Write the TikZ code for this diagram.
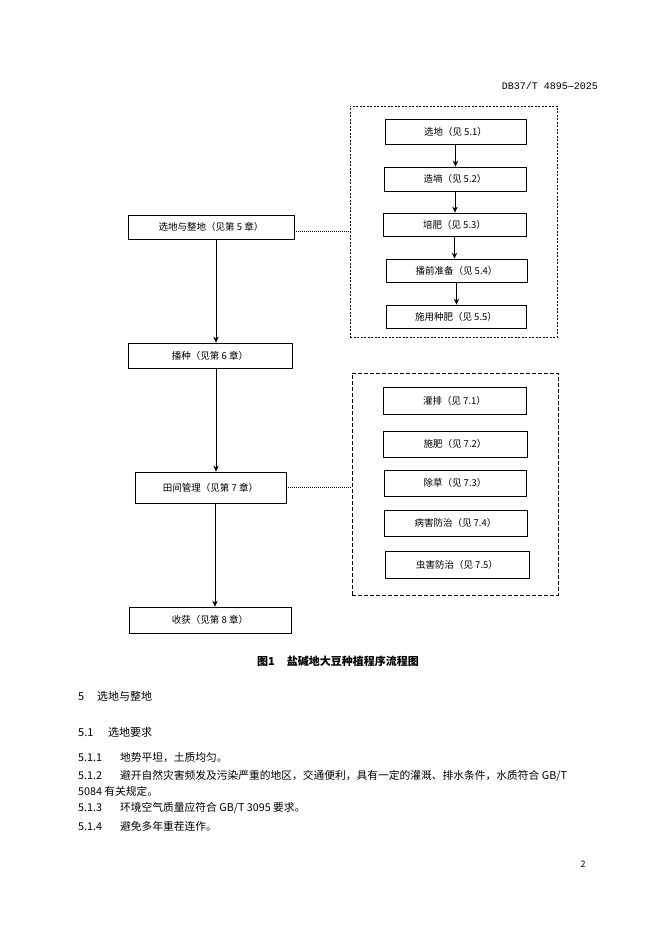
\documentclass[tikz,border=0pt]{standalone}
\usepackage{fontspec}
\newfontfamily\cjk{Noto Sans CJK SC}
\newfontfamily\mono{Liberation Mono}
\usetikzlibrary{shapes.geometric, arrows, arrows.meta, positioning}
\tikzstyle{mainbox} = [rectangle, draw=black, line width=0.8pt, minimum height=25pt, text centered, font=\cjk\fontsize{9.5}{11}\selectfont]
\tikzstyle{subbox} = [rectangle, draw=black, line width=0.8pt, minimum width=142pt, minimum height=25pt, text centered, font=\cjk\fontsize{9.5}{11}\selectfont]
\tikzstyle{groupbox} = [rectangle, draw=black, line width=0.8pt]
\tikzstyle{arrow} = [line width=0.8pt,->,>={Stealth[length=6pt,width=5.5pt]}]
\tikzstyle{dotline} = [line width=0.8pt, dash pattern=on 1pt off 1pt]
\tikzstyle{bodytext} = [anchor=west, inner sep=0pt, font=\cjk\fontsize{10.75}{12}\selectfont]
\tikzstyle{headtext} = [anchor=west, inner sep=0pt, font=\cjk\fontsize{11}{13}\selectfont]
\newcommand{\itemno}[1]{\makebox[42pt][l]{#1}}

\begin{document}
\begin{tikzpicture}[x=1pt, y=-1pt]
    \fill[white] (0,0) rectangle (662,936);
    \useasboundingbox (0,0) rectangle (662,936);

    \node (header) [anchor=east, inner sep=0pt, font=\mono\fontsize{10}{12}\selectfont] at (598,86) {DB37/T 4895—2025};

    % main column
    \node (zhengdi) [mainbox, minimum width=166pt, minimum height=24pt] at (211,227) {选地与整地（见第 5 章）};
    \node (bozhong) [mainbox, minimum width=164pt] at (210,355.5) {播种（见第 6 章）};
    \node (guanli) [mainbox, minimum width=151pt, minimum height=31pt] at (210.5,487.5) {田间管理（见第 7 章）};
    \node (shouhuo) [mainbox, minimum width=162pt, minimum height=26pt] at (210,620) {收获（见第 8 章）};

    \draw[arrow] ([xshift=5pt]zhengdi.south) -- ([xshift=5pt]zhengdi.south |- bozhong.north);
    \draw[arrow] ([xshift=6pt]bozhong.south) -- ([xshift=6pt]bozhong.south |- guanli.north);
    \draw[arrow] ([xshift=4.5pt]guanli.south) -- ([xshift=4.5pt]guanli.south |- shouhuo.north);

    % site selection group
    \node (grpdi) [groupbox, dash pattern=on 2pt off 1.5pt, minimum width=207pt, minimum height=231pt] at (453.5,221.5) {};
    \node (xuandi) [subbox, minimum width=141pt] at (455.5,131.5) {选地（见 5.1）};
    \node (xuanshang) [subbox, minimum height=24pt] at (455,179) {造墒（见 5.2）};
    \node (peifei) [subbox, minimum width=143pt, minimum height=23pt] at (454.5,224.5) {培肥（见 5.3）};
    \node (zhunbei) [subbox, minimum width=141pt, minimum height=23pt] at (456.5,270.5) {播前准备（见 5.4）};
    \node (zhongfei) [subbox, minimum width=140pt, minimum height=23pt] at (456,316.5) {施用种肥（见 5.5）};

    \draw[arrow] (xuandi.south) -- (xuandi.south |- xuanshang.north);
    \draw[arrow] (xuanshang.south) -- (xuanshang.south |- peifei.north);
    \draw[arrow] (peifei.south) -- (peifei.south |- zhunbei.north);
    \draw[arrow] (zhunbei.south) -- (zhunbei.south |- zhongfei.north);

    \draw[dotline] ([yshift=-4pt]zhengdi.east) -- ([yshift=-4pt]zhengdi.east -| grpdi.west);

    % field management group
    \node (grpguan) [groupbox, dash pattern=on 4pt off 2pt, minimum width=206pt, minimum height=222pt] at (455,484) {};
    \node (guanpai) [subbox, minimum width=143pt, minimum height=27pt] at (454.5,400.5) {灌排（见 7.1）};
    \node (shifei) [subbox, minimum width=144pt, minimum height=26pt] at (455,444) {施肥（见 7.2）};
    \node (chucao) [subbox, minimum height=26pt] at (455,483) {除草（见 7.3）};
    \node (binghai) [subbox, minimum width=143pt, minimum height=26pt] at (455.5,523) {病害防治（见 7.4）};
    \node (chonghai) [subbox, minimum width=144pt, minimum height=27pt] at (457,564.5) {虫害防治（见 7.5）};

    \draw[dotline] (guanli.east) -- (guanli.east -| grpguan.west);

    \node (caption) [inner sep=0pt, font=\cjk\bfseries\fontsize{11}{13}\selectfont] at (338,661) {图1\hspace{12pt}盐碱地大豆种植程序流程图};

    % section text
    \node (sec5) [headtext] at (78,696) {\makebox[19pt][l]{5}选地与整地};
    \node (sec51) [headtext] at (78,732) {\makebox[30pt][l]{5.1}选地要求};
    \node (item1) [bodytext] at (78,758) {\itemno{5.1.1}地势平坦，土质均匀。};
    \node (item2) [bodytext] at (78,776) {\itemno{5.1.2}避开自然灾害频发及污染严重的地区，交通便利，具有一定的灌溉、排水条件，水质符合 GB/T};
    \node (item2b) [bodytext] at (78,791) {5084 有关规定。};
    \node (item3) [bodytext] at (78,808) {\itemno{5.1.3}环境空气质量应符合 GB/T 3095 要求。};
    \node (item4) [bodytext] at (78,826) {\itemno{5.1.4}避免多年重茬连作。};

    \node (pageno) [inner sep=0pt, font=\cjk\fontsize{9}{11}\selectfont] at (583,864) {2};
\end{tikzpicture}
\end{document}
